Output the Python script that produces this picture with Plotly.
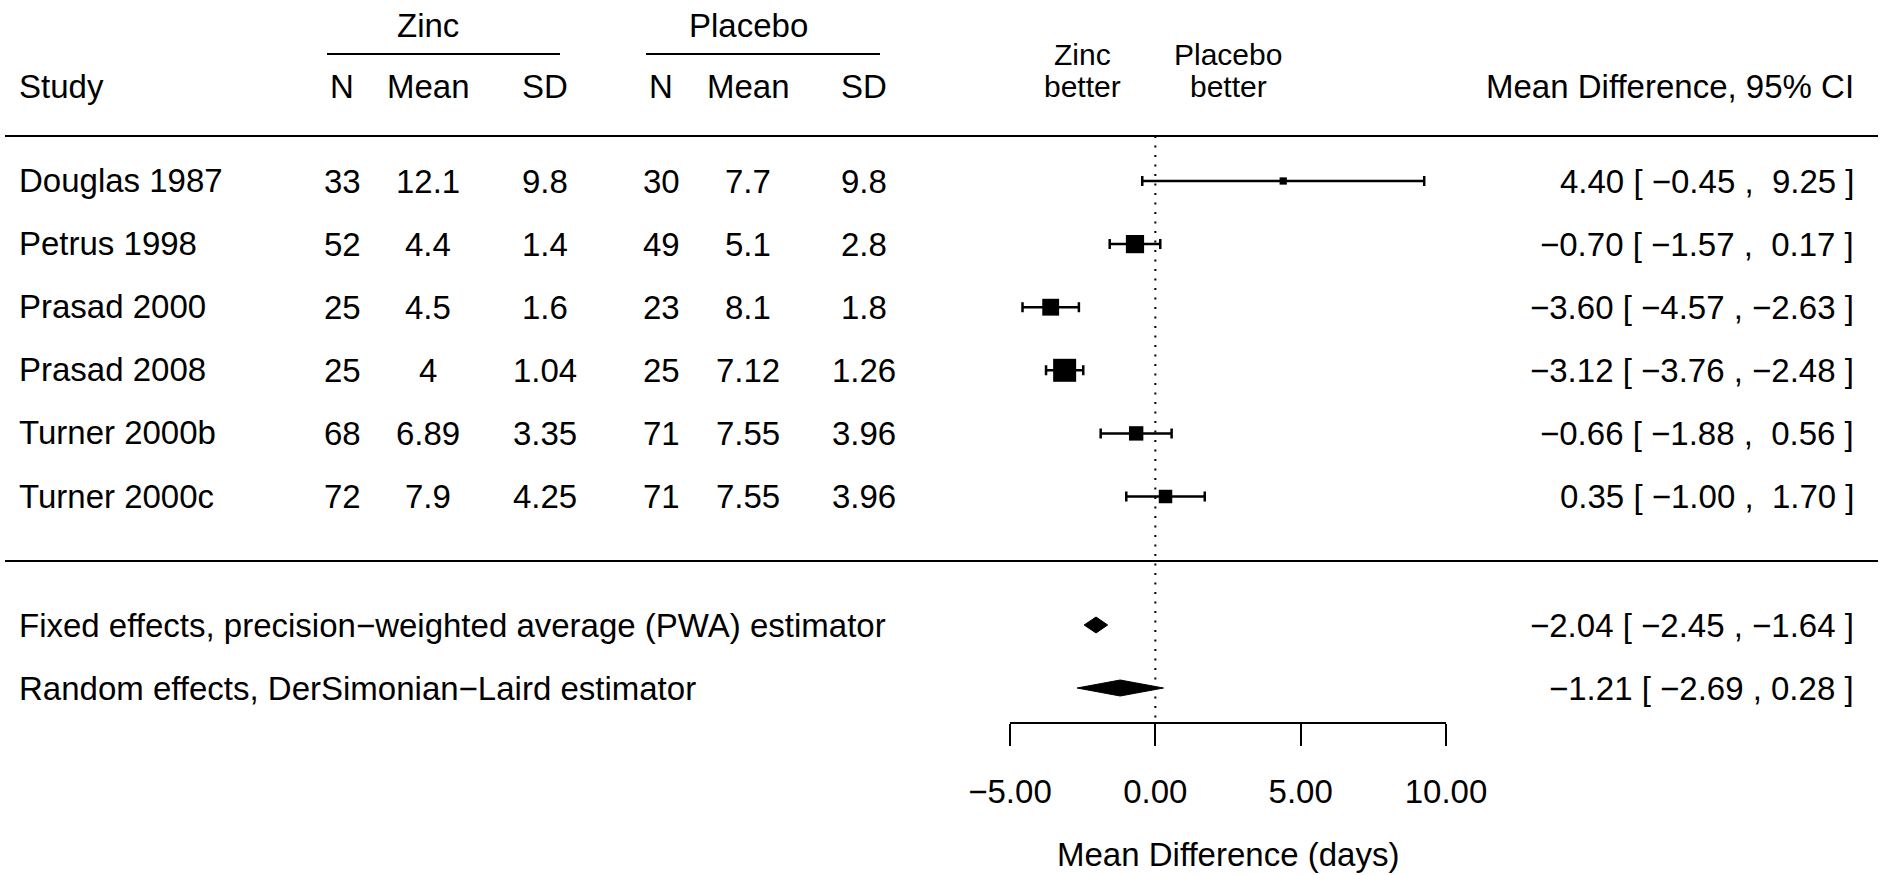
import plotly.graph_objects as go

W, H = 1883, 875

# ---------------- data ----------------
studies = ["Douglas 1987", "Petrus 1998", "Prasad 2000", "Prasad 2008", "Turner 2000b", "Turner 2000c"]
zinc_n = ["33", "52", "25", "25", "68", "72"]
zinc_mean = ["12.1", "4.4", "4.5", "4", "6.89", "7.9"]
zinc_sd = ["9.8", "1.4", "1.6", "1.04", "3.35", "4.25"]
plac_n = ["30", "49", "23", "25", "71", "71"]
plac_mean = ["7.7", "5.1", "8.1", "7.12", "7.55", "7.55"]
plac_sd = ["9.8", "2.8", "1.8", "1.26", "3.96", "3.96"]
md = [4.40, -0.70, -3.60, -3.12, -0.66, 0.35]
ci_lo = [-0.45, -1.57, -4.57, -3.76, -1.88, -1.00]
ci_hi = [9.25, 0.17, -2.63, -2.48, 0.56, 1.70]

summary_labels = ["Fixed effects, precision\u2212weighted average (PWA) estimator",
                  "Random effects, DerSimonian\u2212Laird estimator"]
summary_est = [-2.04, -1.21]
summary_lo = [-2.45, -2.69]
summary_hi = [-1.64, 0.28]

tick_vals = [-5, 0, 5, 10]
tick_labels = ["\u22125.00", "0.00", "5.00", "10.00"]

# ---------------- layout constants (pixels) ----------------
FONT = "Liberation Sans, Arial, Helvetica, sans-serif"
FS = 33
AX_LEFT, AX_RIGHT, AX_Y = 1010, 1446, 722
ROW0, ROW_STEP = 181, 63.1
study_y = [ROW0 + i * ROW_STEP for i in range(len(studies))]
summary_y = [625, 688]
col_x = [342, 428, 545, 661, 748, 864]
RIGHT_X = 1856


def px(x):
    return x / W


def py(y):
    return 1 - y / H


def fmt(v, pad=False):
    s = f"{abs(v):.2f}"
    if v < 0:
        return "\u2212" + s
    return ("\u00a0" + s) if pad else s


def ci_text(e, lo, hi, pad):
    return f"{fmt(e)} [\u00a0{fmt(lo, pad)}\u00a0,\u00a0{fmt(hi, pad)}\u00a0]"


fig = go.Figure()

# study estimates with CIs
se = [(h - l) / (2 * 1.96) for l, h in zip(ci_lo, ci_hi)]
sizes = [4.9 + 5.91 / s for s in se]
fig.add_trace(go.Scatter(
    x=md, y=study_y, mode="markers",
    marker=dict(symbol="square", size=sizes, color="black", opacity=1, line=dict(width=0)),
    error_x=dict(type="data", symmetric=False,
                 array=[h - m for h, m in zip(ci_hi, md)],
                 arrayminus=[m - l for m, l in zip(md, ci_lo)],
                 color="black", thickness=2.5, width=5),
    showlegend=False, hoverinfo="skip", cliponaxis=False))

# summary diamonds
HALF = 8
for e, lo, hi, y in zip(summary_est, summary_lo, summary_hi, summary_y):
    fig.add_trace(go.Scatter(
        x=[lo, e, hi, e, lo], y=[y, y - HALF, y, y + HALF, y],
        mode="lines", fill="toself", fillcolor="black",
        line=dict(color="black", width=1), showlegend=False, hoverinfo="skip"))

shapes = []
# dotted reference line at 0
shapes.append(dict(type="line", xref="x", yref="y", x0=0, x1=0, y0=136, y1=AX_Y,
                   line=dict(color="black", width=2, dash="2px,7.5px")))
# horizontal rules
for y in [136, 561]:
    shapes.append(dict(type="line", xref="paper", yref="paper", x0=px(5), x1=px(1878),
                       y0=py(y), y1=py(y), line=dict(color="black", width=2)))
# group underlines
for x0, x1 in [(327, 560), (646, 880)]:
    shapes.append(dict(type="line", xref="paper", yref="paper", x0=px(x0), x1=px(x1),
                       y0=py(54), y1=py(54), line=dict(color="black", width=2)))

ann = []


def text(x, y, s, anchor="center", size=FS):
    ann.append(dict(x=px(x), y=py(y), xref="paper", yref="paper", text=s, showarrow=False,
                    xanchor=anchor, yanchor="middle",
                    font=dict(family=FONT, size=size, color="black")))


# headers
text(17, 86, "Study", "left")
for x, s in zip(col_x, ["N", "Mean", "SD", "N", "Mean", "SD"]):
    text(x, 86, s)
text(428, 25, "Zinc")
text(748, 25, "Placebo")
text(1082, 55, "Zinc", size=30)
text(1082, 86, "better", size=30)
text(1228, 55, "Placebo", size=30)
text(1228, 86, "better", size=30)
text(RIGHT_X, 86, "Mean Difference, 95% CI", "right")

# study rows
for i, y in enumerate(study_y):
    text(17, y - 0.5, studies[i], "left")
    for x, col in zip(col_x, [zinc_n, zinc_mean, zinc_sd, plac_n, plac_mean, plac_sd]):
        text(x, y + 0.5, col[i])
    text(RIGHT_X, y, ci_text(md[i], ci_lo[i], ci_hi[i], True), "right")

# summary rows
for lab, e, lo, hi, y in zip(summary_labels, summary_est, summary_lo, summary_hi, summary_y):
    text(17, y, lab, "left")
    text(RIGHT_X, y, ci_text(e, lo, hi, False), "right")

# axis title
text((AX_LEFT + AX_RIGHT) / 2, 854, "Mean Difference (days)")

fig.update_layout(
    width=W, height=H, margin=dict(l=0, r=0, t=0, b=0, autoexpand=False),
    paper_bgcolor="white", plot_bgcolor="white",
    shapes=shapes, annotations=ann, showlegend=False,
    xaxis=dict(domain=[px(AX_LEFT), px(AX_RIGHT)], range=[-5, 10], automargin=False,
               showgrid=False, zeroline=False, showline=True, linecolor="black", linewidth=2,
               ticks="outside", ticklen=22, tickwidth=2, tickcolor="black",
               tickvals=tick_vals, ticktext=tick_labels, ticklabelstandoff=17,
               tickfont=dict(family=FONT, size=FS, color="black"), fixedrange=True),
    yaxis=dict(domain=[1 - AX_Y / H, 1], range=[AX_Y, 0], visible=False, fixedrange=True,
               automargin=False),
)

fig.write_html("out.html")
